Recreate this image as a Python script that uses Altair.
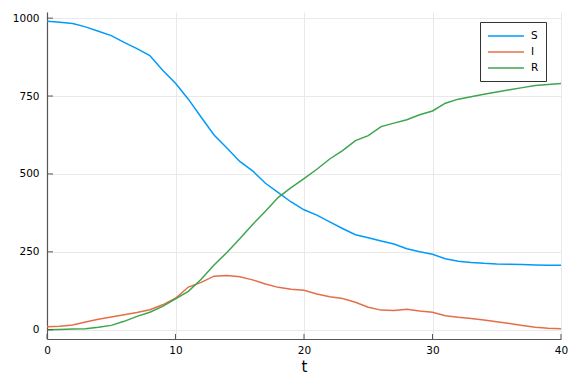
import altair as alt
import pandas as pd

t = list(range(41))
S = [990, 987, 983, 972, 958, 944, 922, 902, 880, 833, 791, 740, 682, 625, 583, 540,
     510, 470, 440, 410, 385, 368, 346, 325, 305, 295, 285, 275, 260, 250, 242, 228,
     220, 216, 213, 211, 210, 209, 208, 207, 207]
I = [10, 11, 15, 25, 34, 41, 48, 55, 64, 80, 101, 137, 152, 172, 174, 170,
     160, 147, 136, 130, 127, 115, 106, 100, 88, 72, 63, 62, 66, 60, 56, 45,
     40, 36, 31, 26, 20, 14, 8, 5, 3]
R = [0, 1, 2, 3, 8, 14, 27, 43, 56, 75, 99, 123, 162, 208, 248, 292,
     338, 380, 425, 456, 485, 515, 548, 575, 607, 623, 652, 663, 674, 690, 702, 727,
     740, 748, 756, 763, 770, 777, 784, 787, 790]
series_names = ["S", "I", "R"]
colors = ["#009AFA", "#E36F47", "#3EA44E"]
x_ticks = [0, 10, 20, 30, 40]
y_ticks = [0, 250, 500, 750, 1000]

rows = []
for k, (name, vals) in enumerate(zip(series_names, [S, I, R])):
    for ti, v in zip(t, vals):
        rows.append({"t": ti, "value": v, "series": name, "k": k})
df = pd.DataFrame(rows)

FONT = "DejaVu Sans"
AX = "#555555"

xscale = alt.Scale(domain=[0, 40], nice=False, zero=False)
yscale = alt.Scale(domain=[-29.7, 1019.7], nice=False, zero=False)
xaxis = alt.Axis(values=x_ticks, title="t", format="d", labelPadding=6, labelFlush=False,
                 titlePadding=4, titleFontSize=15, titleFontWeight="normal")
yaxis = alt.Axis(values=y_ticks, title=None, format="d", labelPadding=8, labelFlush=False)

lines = alt.Chart(df).mark_line(strokeWidth=1.5, clip=True).encode(
    x=alt.X("t:Q", scale=xscale, axis=xaxis),
    y=alt.Y("value:Q", scale=yscale, axis=yaxis),
    color=alt.Color("series:N",
                    scale=alt.Scale(domain=series_names, range=colors),
                    legend=alt.Legend(title=None, orient="none", legendX=433, legendY=10,
                                      symbolType="M-1,0H5", symbolSize=144,
                                      symbolStrokeWidth=1.5, labelFontSize=10.5,
                                      labelFont=FONT, labelColor="#000",
                                      labelExpr="datum.label + '   '",
                                      padding=7, strokeColor="#333", fillColor="white",
                                      rowPadding=3, labelOffset=30, cornerRadius=0)),
    order="k:O",
)

yt = alt.Chart(pd.DataFrame({"t": y_ticks})).mark_rule(color=AX, strokeWidth=1).encode(
    y=alt.Y("t:Q", scale=yscale, axis=yaxis), x=alt.value(0), x2=alt.value(6))
xt = alt.Chart(pd.DataFrame({"t": x_ticks})).mark_rule(color=AX, strokeWidth=1).encode(
    x=alt.X("t:Q", scale=xscale, axis=xaxis), y=alt.value(327), y2=alt.value(322))

chart = alt.layer(lines, yt, xt).properties(
    width=514, height=327,
    autosize=alt.AutoSizeParams(type="none"),
    padding={"left": 39, "top": 4, "right": 7, "bottom": 37},
).configure_view(stroke=None).configure_axis(
    domainColor=AX, domainWidth=1.2, tickSize=0, grid=True,
    gridColor="#e9e9e9", gridWidth=1, labelFont=FONT, titleFont=FONT,
    labelFontSize=10.5, labelColor="#000", titleColor="#000",
)

chart.save("out.html", embed_options={"renderer": "svg", "actions": False})
